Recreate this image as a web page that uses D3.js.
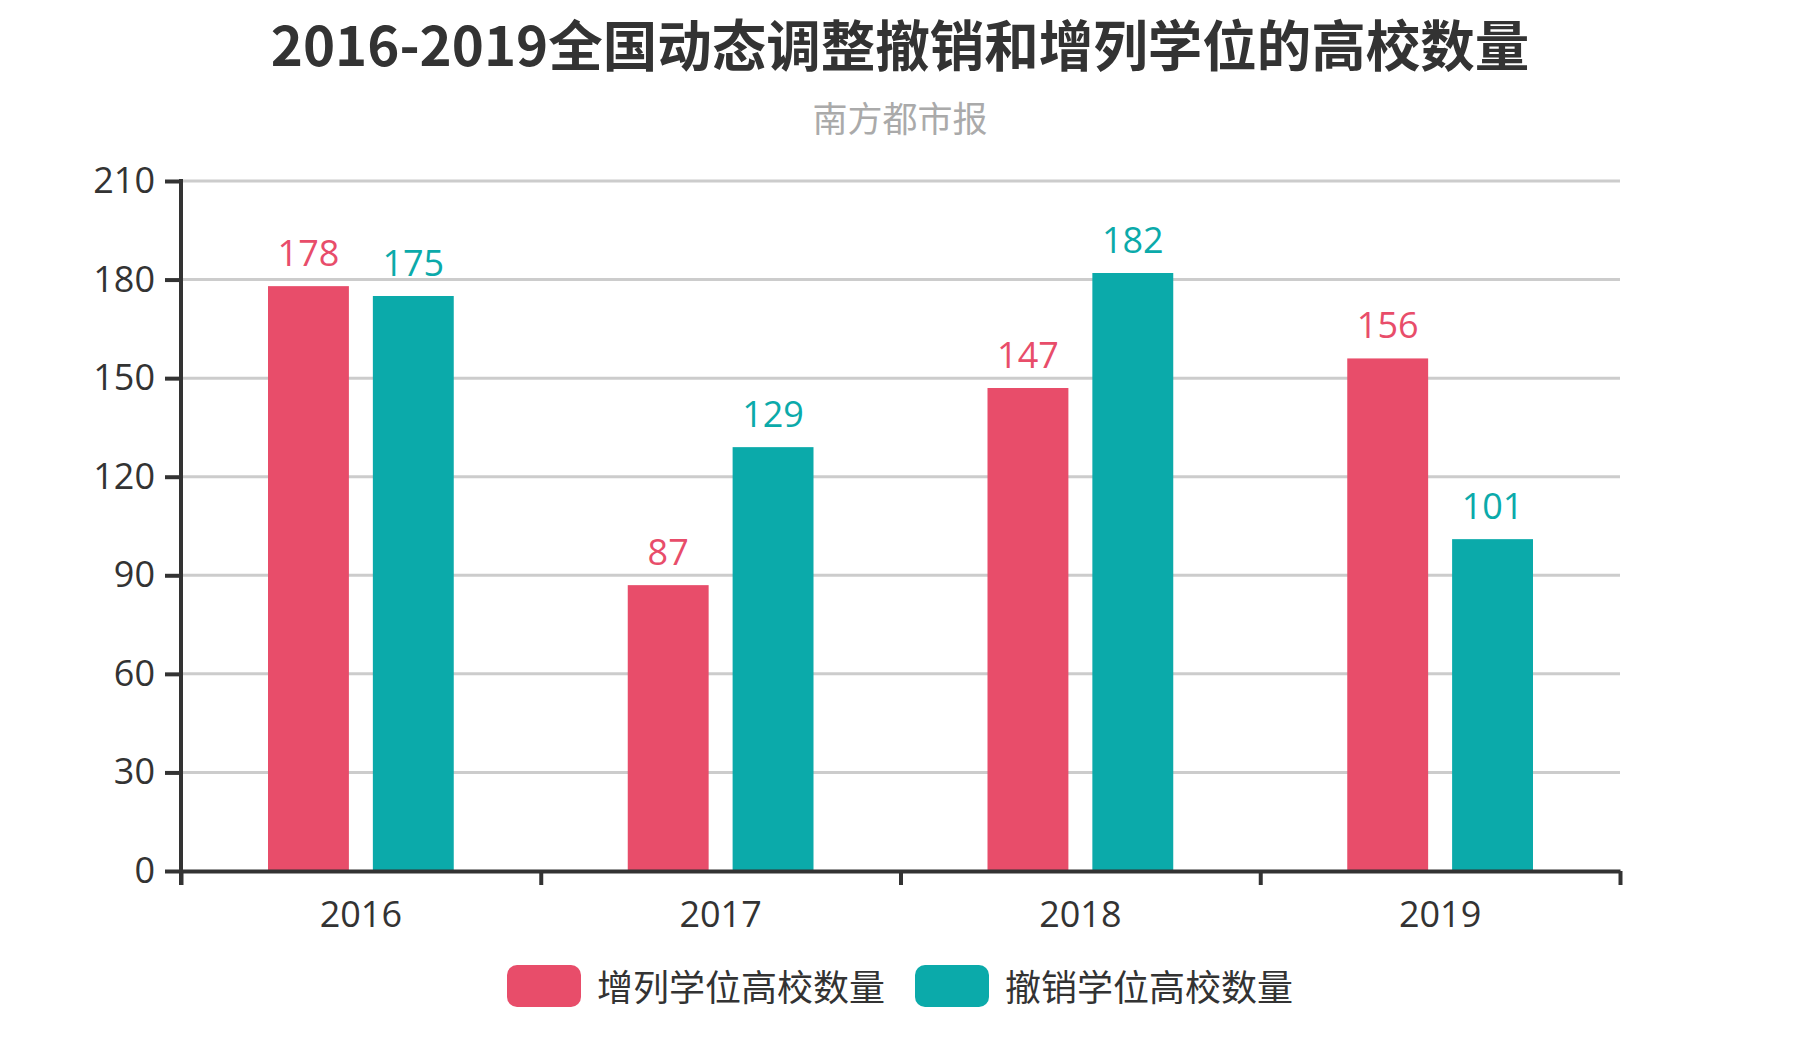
<!DOCTYPE html>
<html><head><meta charset="utf-8">
<script src="https://cdn.jsdelivr.net/npm/d3@7"></script>
<style>
html,body{margin:0;padding:0;background:#fff;}
text{font-family:"Open Sans","Noto Sans CJK SC",sans-serif;}
</style></head>
<body>
<svg id="chart" width="1800" height="1050"></svg>
<script>
const titleText = "2016-2019全国动态调整撤销和增列学位的高校数量";
const subtitleText = "南方都市报";
const years = ["2016","2017","2018","2019"];
const seriesNames = ["增列学位高校数量","撤销学位高校数量"];
const addedValues = [178, 87, 147, 156];
const revokedValues = [175, 129, 182, 101];
const yTicks = [0,30,60,90,120,150,180,210];
const colors = ["#E84D6A","#0BAAAA"];

const svg = d3.select("#chart");
const m = {left:181, right:180, top:181, bottom:179};
const W = 1800, H = 1050;
const x0 = m.left, x1 = W - m.right, yTop = m.top, yBot = H - m.bottom;

const x = d3.scaleBand().domain(years).range([x0, x1]).padding(0);
const xs = d3.scaleBand().domain(seriesNames).range([87, x.bandwidth()-87]).paddingInner(24/105).paddingOuter(0);
const y = d3.scaleLinear().domain([0,210]).range([yBot, yTop]);
const xb = d3.scaleLinear().domain([0, years.length]).range([x0, x1]);

const series = [addedValues, revokedValues];

// title
svg.append("text").attr("x", W/2).attr("y", 66).attr("text-anchor","middle")
  .style("font-family","'Noto Sans CJK SC',sans-serif").style("font-weight","bold")
  .style("font-size","54.5px").attr("fill","#333").text(titleText);
svg.append("text").attr("x", W/2).attr("y", 132).attr("text-anchor","middle")
  .style("font-family","'Noto Sans CJK SC',sans-serif")
  .style("font-size","35px").attr("fill","#aaa").text(subtitleText);

// gridlines
svg.append("g").selectAll("line").data(yTicks.filter(d=>d>0)).join("line")
  .attr("x1", x0).attr("x2", x1).attr("y1", d=>y(d)).attr("y2", d=>y(d))
  .attr("stroke","#ccc").attr("stroke-width",3);

// bars
const groups = svg.append("g").selectAll("g").data(seriesNames).join("g")
  .attr("fill",(d,i)=>colors[i]);
groups.selectAll("rect").data((s,i)=>years.map((yr,j)=>({yr, s, v:series[i][j]}))).join("rect")
  .attr("x", d=>x(d.yr)+xs(d.s)).attr("width", xs.bandwidth())
  .attr("y", d=>y(d.v)).attr("height", d=>y(0)-y(d.v));
groups.selectAll("text").data((s,i)=>years.map((yr,j)=>({yr, s, v:series[i][j], c:colors[i]}))).join("text")
  .attr("x", d=>x(d.yr)+xs(d.s)+xs.bandwidth()/2).attr("y", d=>y(d.v)-20)
  .attr("text-anchor","middle").style("font-size","36px").attr("fill", d=>d.c).text(d=>d.v);

// y axis
const ya = svg.append("g").attr("transform",`translate(${x0},0)`)
  .call(d3.axisLeft(y).tickValues(yTicks).tickSize(16).tickSizeOuter(0).tickPadding(10));
ya.select(".domain").remove();
ya.selectAll(".tick line").attr("stroke","#333").attr("stroke-width",4);
ya.selectAll(".tick text").style("font-size","36px").attr("fill","#333").style("font-family","'Open Sans',sans-serif");
svg.append("line").attr("x1",x0).attr("x2",x0).attr("y1",yTop-2).attr("y2",yBot+14)
  .attr("stroke","#333").attr("stroke-width",4);

// x axis
const xa = svg.append("g").attr("transform",`translate(0,${yBot})`)
  .call(d3.axisBottom(xb).tickValues(d3.range(years.length+1)).tickFormat("").tickSize(14).tickSizeOuter(0));
xa.select(".domain").attr("stroke","#333").attr("stroke-width",4);
xa.selectAll(".tick line").attr("stroke","#333").attr("stroke-width",4);
const xl = svg.append("g").attr("transform",`translate(0,${yBot})`)
  .call(d3.axisBottom(x).tickSize(0).tickPadding(20));
xl.select(".domain").remove();
xl.selectAll(".tick text").style("font-size","36px").attr("fill","#333").attr("dy","0").attr("y",56)
  .style("font-family","'Open Sans',sans-serif");

// legend
const legendX = [507, 915];
const lg = svg.append("g").selectAll("g").data(seriesNames).join("g")
  .attr("transform",(d,i)=>`translate(${legendX[i]},965)`);
lg.append("rect").attr("width",74).attr("height",42).attr("rx",10).attr("ry",10).attr("fill",(d,i)=>colors[i]);
lg.append("text").attr("x",90).attr("y",23).attr("dy","0.35em")
  .style("font-family","'Noto Sans CJK SC',sans-serif").style("font-size","36px").attr("fill","#333").text(d=>d);
</script>
</body></html>
